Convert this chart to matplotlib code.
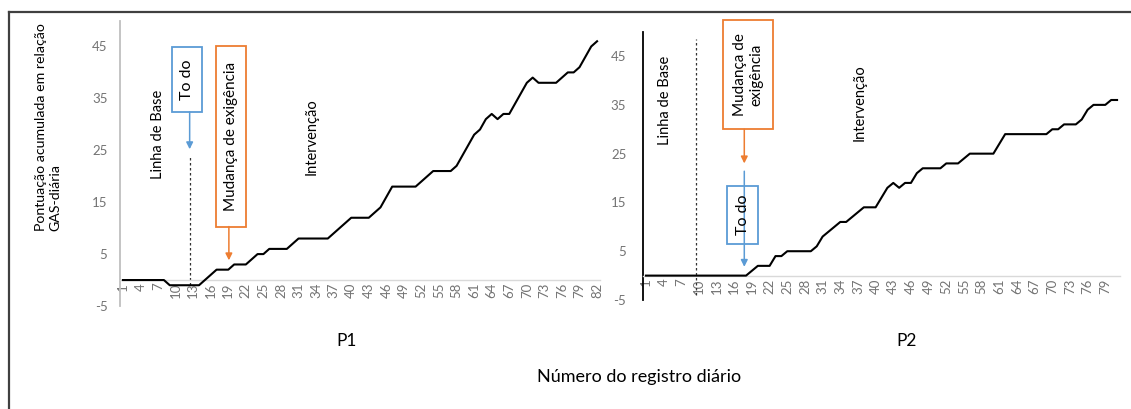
import numpy as np
import matplotlib
matplotlib.use("Agg")
import matplotlib.pyplot as plt
from matplotlib.patches import Rectangle
from matplotlib.lines import Line2D

plt.rcParams["font.family"] = ["Lato", "DejaVu Sans"]

# cumulative GAS score per daily record
p1_scores = [0, 0, 0, 0, 0, 0, 0, 0,
             -1, -1, -1, -1, -1, -1,
             0, 1, 2, 2, 2, 3, 3, 3,
             4, 5, 5, 6, 6, 6, 6,
             7, 8, 8, 8, 8, 8, 8,
             9, 10, 11, 12, 12, 12, 12,
             13, 14, 16, 18, 18, 18, 18, 18,
             19, 20, 21, 21, 21, 21, 22,
             24, 26, 28, 29, 31, 32, 31, 32, 32,
             34, 36, 38, 39, 38, 38, 38, 38,
             39, 40, 40, 41, 43, 45, 46]
p2_scores = [0] * 18 + [
             1, 2, 2, 2, 4,
             4, 5, 5, 5, 5, 5, 6, 8,
             9, 10, 11, 11, 12, 13, 14, 14, 14,
             16, 18, 19, 18, 19, 19, 21,
             22, 22, 22, 22, 23, 23, 23, 24, 25,
             25, 25, 25, 25, 27, 29,
             29, 29, 29, 29, 29, 29, 29,
             30, 30, 31, 31, 31, 32, 34, 35, 35, 35, 36, 36]
panel_names = ["P1", "P2"]
y_ticks = [-5, 5, 15, 25, 35, 45]

BLUE = "#5B9BD5"
ORANGE = "#ED7D31"
TICK_GREY = "#737373"

W, H = 1131, 409
fig = plt.figure(figsize=(W / 100, H / 100), dpi=100)


def px_axes(x0, y_top, x1, y_bot):
    return fig.add_axes([x0 / W, 1 - y_bot / H, (x1 - x0) / W, (y_bot - y_top) / H])


def setup(ax, scores, left_color, ylab_pad):
    n = len(scores)
    x = np.arange(1, n + 1)
    ax.plot(x, scores, color="black", lw=1.5, zorder=3)
    ax.set_xlim(0.5, n + 0.5)
    ax.set_ylim(-5, 50)
    ax.set_xticks(np.arange(1, n + 1, 3))
    ax.set_xticklabels([str(v) for v in np.arange(1, n + 1, 3)])
    ax.set_yticks(y_ticks)
    ax.set_yticklabels([str(v) for v in y_ticks])
    ax.tick_params(axis="x", length=0, pad=2, labelrotation=90,
                   labelcolor=TICK_GREY, labelsize=9.5)
    ax.tick_params(axis="y", length=0, pad=ylab_pad,
                   labelcolor=TICK_GREY, labelsize=9.5)
    for s in ["top", "right"]:
        ax.spines[s].set_visible(False)
    ax.spines["bottom"].set_position(("data", 0))
    ax.spines["bottom"].set_color("#d9d9d9")
    ax.spines["bottom"].set_linewidth(1.0)
    ax.spines["left"].set_color(left_color)
    ax.spines["left"].set_linewidth(1.3)
    ax.patch.set_alpha(0)


def box(ax, x0, x1, y0, y1, color, text, fs):
    ax.add_patch(Rectangle((x0, y0), x1 - x0, y1 - y0, fill=False, ec=color,
                           lw=1.3, clip_on=False, zorder=4))
    ax.text((x0 + x1) / 2, (y0 + y1) / 2, text, rotation=90, ha="center",
            va="center", fontsize=fs, multialignment="center", zorder=5)


def arrow(ax, x, y_from, y_to, color):
    ax.annotate("", xy=(x, y_to), xytext=(x, y_from),
                arrowprops=dict(arrowstyle="-|>", color=color, lw=1.1,
                                mutation_scale=10, shrinkA=0, shrinkB=0),
                zorder=4)


# P1
ax1 = px_axes(120, 20.5, 600, 306)
setup(ax1, p1_scores, "#bfbfbf", 9)
ax1.plot([12.5, 12.5], [-1, 23.8], color="#333333", lw=0.9, ls=(0, (2, 2)))
box(ax1, 9.3, 14.5, 32.4, 44.9, BLUE, "To do", 11.5)
arrow(ax1, 12.4, 32.4, 25.2, BLUE)
box(ax1, 16.9, 22.1, 10.3, 45, ORANGE, "Mudança de exigência", 11)
arrow(ax1, 19.1, 10.3, 3.8, ORANGE)
ax1.text(7, 28, "Linha de Base", rotation=90, ha="center", va="center", fontsize=10.5)
ax1.text(33.2, 27.7, "Intervenção", rotation=90, ha="center", va="center", fontsize=10.5)

# P2
ax2 = px_axes(643, 31.7, 1120, 300)
setup(ax2, p2_scores, "black", 12)
ax2.plot([9.5, 9.5], [-4, 48.5], color="#333333", lw=0.9, ls=(0, (2, 2)))
box(ax2, 14.0, 22.6, 30, 52.3, ORANGE, "Mudança de\nexigência", 11)
arrow(ax2, 17.7, 30, 23, ORANGE)
arrow(ax2, 17.7, 21.4, 1.8, BLUE)
ax2.add_patch(Rectangle((14.8, 6.5), 5.3, 11.8, fc="white", ec="none", zorder=3.5))
box(ax2, 14.8, 20.1, 6.5, 18.3, BLUE, "To do", 11.5)
ax2.text(4.2, 36, "Linha de Base", rotation=90, ha="center", va="center", fontsize=10.5)
ax2.text(37.3, 35.5, "Intervenção", rotation=90, ha="center", va="center", fontsize=10.5)

# panel names and shared labels
fig.text(347 / W, 1 - 341 / H, panel_names[0], ha="center", va="center", fontsize=12.5)
fig.text(907 / W, 1 - 341 / H, panel_names[1], ha="center", va="center", fontsize=12.5)
fig.text(639 / W, 1 - 377 / H, "Número do registro diário", ha="center", va="center",
         fontsize=13)
fig.text(48 / W, 1 - 231 / H, "Pontuação acumulada em relação\nGAS-diária", rotation=90,
         ha="center", va="bottom", multialignment="left", fontsize=10.2, linespacing=1.2)

# outer frame (only left and top edges visible)
fig.add_artist(Line2D([9 / W, 9 / W], [0, 1 - 12 / H], transform=fig.transFigure,
                      color="#404040", lw=1.6))
fig.add_artist(Line2D([9 / W, 1], [1 - 12 / H, 1 - 12 / H], transform=fig.transFigure,
                      color="#404040", lw=1.6))

fig.savefig("out.png", dpi=100)
